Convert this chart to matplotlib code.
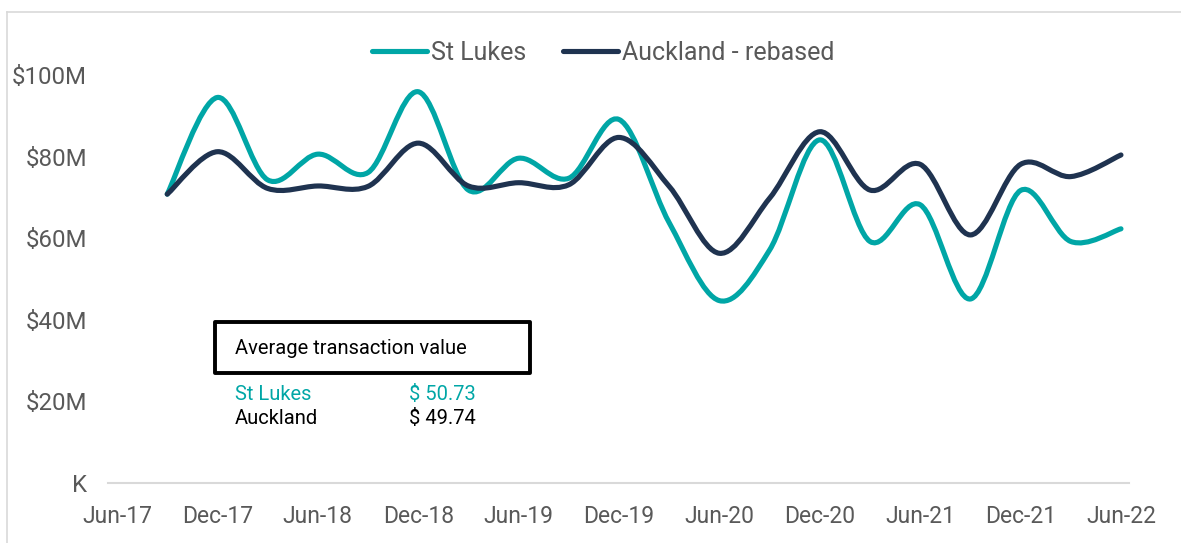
#St Lukes vs Auckland (rebased) quarterly sales value, Excel-style smoothed lines

from matplotlib import pyplot as plt
from matplotlib.path import Path
from matplotlib.patches import PathPatch, Rectangle
from matplotlib.lines import Line2D

plt.rcParams['font.family'] = ['Roboto', 'DejaVu Sans']

# quarters Sep-17 .. Jun-22, values in $M
quarters = ["Sep-17", "Dec-17", "Mar-18", "Jun-18", "Sep-18", "Dec-18", "Mar-19",
            "Jun-19", "Sep-19", "Dec-19", "Mar-20", "Jun-20", "Sep-20", "Dec-20",
            "Mar-21", "Jun-21", "Sep-21", "Dec-21", "Mar-22", "Jun-22"]
st_lukes = [70.8, 94.5, 74.3, 80.6, 76.1, 95.9, 71.8, 79.6, 74.7, 89.1,
            63.8, 44.7, 57.1, 84.1, 59.2, 68.2, 45.1, 71.7, 59.2, 62.3]
auckland = [70.8, 81.2, 72.2, 72.8, 72.7, 83.3, 72.8, 73.6, 73.1, 84.7,
            72.7, 56.3, 69.8, 86.1, 71.8, 78.1, 60.8, 78.1, 75.1, 80.4]

tick_labels = ["Jun-17", "Dec-17", "Jun-18", "Dec-18", "Jun-19", "Dec-19",
               "Jun-20", "Dec-20", "Jun-21", "Dec-21", "Jun-22"]
y_ticks = [0, 20, 40, 60, 80, 100]
y_labels = ["K", "$20M", "$40M", "$60M", "$80M", "$100M"]

avg_names = ["St Lukes", "Auckland"]
avg_values = [50.73, 49.74]

TEAL = "#00a6a6"
NAVY = "#1f3350"
GREY = "#595959"


def smooth_path(xs, ys, k=1/6):
    # cubic bezier through every point, control points like excel's smoothed line
    n = len(xs)
    verts = [(xs[0], ys[0])]
    codes = [Path.MOVETO]
    for i in range(n - 1):
        x0, y0 = (xs[i - 1], ys[i - 1]) if i > 0 else (xs[i], ys[i])
        x1, y1 = xs[i], ys[i]
        x2, y2 = xs[i + 1], ys[i + 1]
        x3, y3 = (xs[i + 2], ys[i + 2]) if i + 2 < n else (x2, y2)
        c1 = (x1 + (x2 - x0) * k, y1 + (y2 - y0) * k)
        c2 = (x2 - (x3 - x1) * k, y2 - (y3 - y1) * k)
        verts += [c1, c2, (x2, y2)]
        codes += [Path.CURVE4] * 3
    return Path(verts, codes)


W, H = 1181, 543
fig = plt.figure(figsize=(W / 100, H / 100), dpi=100)

# chart area border (only top/left visible in the crop)
fig.add_artist(Line2D([7 / W, 7 / W], [0, 1 - 12 / H], color="#d9d9d9", lw=1.2))
fig.add_artist(Line2D([7 / W, 1], [1 - 12 / H, 1 - 12 / H], color="#d9d9d9", lw=1.2))

ax = fig.add_axes([108 / W, 1 - 483 / H, (1129 - 108) / W, (483 - 75) / H])

x = list(range(1, len(quarters) + 1))   # 0 = Jun-17
for ys, col in [(st_lukes, TEAL), (auckland, NAVY)]:
    patch = PathPatch(smooth_path(x, ys), fill=False, edgecolor=col, lw=3.7,
                      capstyle="round", joinstyle="round", clip_on=False)
    ax.add_patch(patch)

ax.set_xlim(-0.18, 20.16)
ax.set_ylim(0, 100)
ax.set_xticks(range(0, 21, 2))
ax.set_xticklabels(tick_labels)
ax.set_yticks(y_ticks)
ax.set_yticklabels(y_labels)
ax.tick_params(length=0, labelcolor=GREY)
ax.tick_params(axis="x", pad=16, labelsize=16.5)
ax.tick_params(axis="y", pad=15, labelsize=17.3)
for s in ["top", "right", "left"]:
    ax.spines[s].set_visible(False)
ax.spines["bottom"].set_color("#d9d9d9")
ax.spines["bottom"].set_linewidth(1.5)

handles = [Line2D([], [], color=TEAL, lw=3.7, solid_capstyle="round"),
           Line2D([], [], color=NAVY, lw=3.7, solid_capstyle="round")]
fig.legend(handles, ["St Lukes", "Auckland - rebased"], loc="center",
           bbox_to_anchor=(603 / W, 1 - 53 / H), ncol=2, frameon=False,
           fontsize=18, labelcolor=GREY, handlelength=2.2, handletextpad=0.16,
           columnspacing=1.45)

# average transaction value box
fig.add_artist(Rectangle((215 / W, 1 - 373 / H), 315 / W, 51 / H, fill=False,
                         edgecolor="black", lw=2.8, joinstyle="round",
                         transform=fig.transFigure))
fig.text(235 / W, 1 - 348 / H, "Average transaction value", fontsize=14.5,
         color="black", va="center")
for i, (name, val) in enumerate(zip(avg_names, avg_values)):
    col = TEAL if i == 0 else "black"
    yy = 1 - (395 + 24 * i) / H
    fig.text(235 / W, yy, name, fontsize=14.5, color=col, va="center")
    fig.text(409 / W, yy, f"$ {val:.2f}", fontsize=14.5, color=col, va="center")

fig.savefig("out.png", dpi=100)
